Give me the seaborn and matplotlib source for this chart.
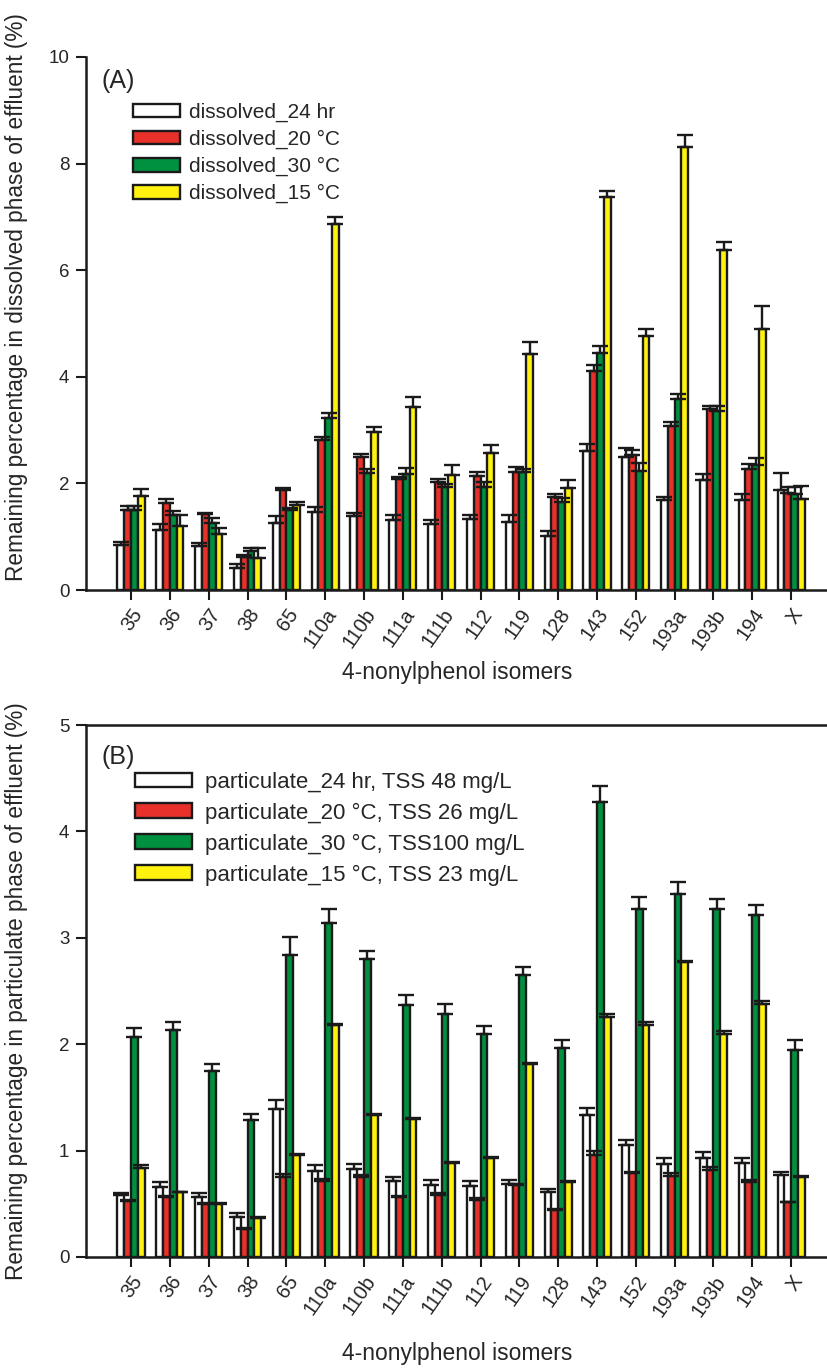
import numpy as np
import pandas as pd
import matplotlib
matplotlib.use("Agg")
import matplotlib.pyplot as plt
import seaborn as sns

isomers = ["35", "36", "37", "38", "65", "110a", "110b", "111a", "111b", "112",
           "119", "128", "143", "152", "193a", "193b", "194", "X"]

# Panel A: dissolved phase (%)
dis_24hr = [0.84, 1.12, 0.83, 0.41, 1.25, 1.47, 1.38, 1.31, 1.24, 1.34, 1.28, 1.02, 2.61, 2.50, 1.69, 2.06, 1.69, 1.88]
dis_20C = [1.51, 1.64, 1.43, 0.62, 1.87, 2.81, 2.49, 2.08, 2.03, 2.14, 2.22, 1.74, 4.11, 2.53, 3.08, 3.39, 2.27, 1.83]
dis_30C = [1.51, 1.41, 1.25, 0.74, 1.50, 3.22, 2.19, 2.17, 1.93, 1.94, 2.21, 1.66, 4.45, 2.24, 3.58, 3.36, 2.35, 1.80]
dis_15C = [1.76, 1.21, 1.05, 0.61, 1.60, 6.86, 2.96, 3.43, 2.16, 2.58, 4.42, 1.91, 7.38, 4.77, 8.32, 6.38, 4.90, 1.71]
dis_24hr_err = [0.07, 0.11, 0.06, 0.08, 0.13, 0.08, 0.06, 0.10, 0.07, 0.07, 0.13, 0.09, 0.13, 0.17, 0.06, 0.12, 0.11, 0.31]
dis_20C_err = [0.06, 0.07, 0.02, 0.04, 0.04, 0.07, 0.06, 0.05, 0.05, 0.07, 0.08, 0.06, 0.12, 0.10, 0.08, 0.06, 0.09, 0.10]
dis_30C_err = [0.06, 0.08, 0.10, 0.04, 0.04, 0.11, 0.09, 0.12, 0.06, 0.09, 0.06, 0.06, 0.13, 0.14, 0.09, 0.09, 0.12, 0.13]
dis_15C_err = [0.13, 0.19, 0.11, 0.17, 0.06, 0.13, 0.10, 0.20, 0.18, 0.15, 0.23, 0.15, 0.11, 0.12, 0.21, 0.14, 0.43, 0.24]

# Panel B: particulate phase (%)
par_24hr = [0.58, 0.66, 0.565, 0.38, 1.39, 0.81, 0.83, 0.71, 0.68, 0.67, 0.69, 0.61, 1.33, 1.05, 0.87, 0.93, 0.88, 0.77]
par_20C = [0.53, 0.56, 0.50, 0.26, 0.75, 0.71, 0.75, 0.565, 0.58, 0.54, 0.68, 0.445, 0.96, 0.79, 0.76, 0.82, 0.70, 0.52]
par_30C = [2.07, 2.13, 1.75, 1.29, 2.84, 3.14, 2.80, 2.37, 2.28, 2.10, 2.65, 1.96, 4.28, 3.27, 3.41, 3.27, 3.21, 1.95]
par_15C = [0.84, 0.61, 0.50, 0.37, 0.96, 2.18, 1.33, 1.30, 0.88, 0.93, 1.81, 0.70, 2.26, 2.18, 2.77, 2.10, 2.38, 0.75]
par_24hr_err = [0.02, 0.04, 0.035, 0.03, 0.09, 0.05, 0.04, 0.04, 0.04, 0.04, 0.03, 0.03, 0.07, 0.05, 0.06, 0.06, 0.05, 0.03]
par_20C_err = [0.01, 0.01, 0.01, 0.01, 0.03, 0.02, 0.02, 0.01, 0.02, 0.01, 0.01, 0.01, 0.04, 0.01, 0.03, 0.03, 0.02, 0.00]
par_30C_err = [0.08, 0.08, 0.06, 0.05, 0.17, 0.13, 0.08, 0.09, 0.10, 0.07, 0.08, 0.08, 0.15, 0.11, 0.11, 0.09, 0.10, 0.09]
par_15C_err = [0.02, 0.00, 0.01, 0.01, 0.01, 0.01, 0.01, 0.01, 0.01, 0.01, 0.01, 0.01, 0.02, 0.03, 0.01, 0.02, 0.03, 0.01]

labels_A = ["dissolved_24 hr", "dissolved_20 °C", "dissolved_30 °C", "dissolved_15 °C"]
labels_B = ["particulate_24 hr, TSS 48 mg/L", "particulate_20 °C, TSS 26 mg/L",
            "particulate_30 °C, TSS100 mg/L", "particulate_15 °C, TSS 23 mg/L"]
colors = ["#ffffff", "#e8312a", "#009140", "#fff20f"]

sns.set_theme(style="white")
plt.rcParams["font.family"] = ["Liberation Sans", "DejaVu Sans"]
plt.rcParams["axes.linewidth"] = 1.8

fig = plt.figure(figsize=(8.28, 13.70), dpi=100)
axA = fig.add_axes([0.1039, 0.5693, 0.8961, 0.3891])
axB = fig.add_axes([0.1039, 0.0825, 0.8961, 0.3883])


def draw(ax, series, errs, labels, ylim, yticks, ylabel, tag, tag_y,
         legend_fs, leg_xy, handlelen, labelspacing, textpad, xlabelpad, ylabel_y, top_spine):
    rows = []
    for lab, vals in zip(labels, series):
        for iso, v in zip(isomers, vals):
            rows.append({"isomer": iso, "series": lab, "value": v})
    df = pd.DataFrame(rows)
    sns.barplot(data=df, x="isomer", y="value", hue="series", order=isomers,
                hue_order=labels, palette=colors, ax=ax, width=0.7,
                edgecolor="#1a1a1a", linewidth=1.7, errorbar=None, saturation=1)
    n = len(labels)
    bw = 0.7 / n
    x = np.arange(len(isomers))
    for i, (vals, e) in enumerate(zip(series, errs)):
        xi = x - 0.35 + bw * (i + 0.5)
        ax.errorbar(xi, vals, yerr=[np.zeros(len(vals)), e], fmt="none",
                    ecolor="#1a1a1a", elinewidth=1.7, capsize=5.5, capthick=1.7)
    ax.set_xlim(-1.16, 17.95)
    ax.set_ylim(*ylim)
    ax.set_yticks(yticks)
    ax.set_yticklabels([str(t) for t in yticks], fontsize=13.5)
    ax.set_xticks(x)
    ax.set_xticklabels(isomers, rotation=55, ha="right", rotation_mode="anchor", fontsize=14.5)
    ax.tick_params(axis="both", direction="out", length=7, width=1.5, color="#1a1a1a",
                   left=True, bottom=True, pad=5)
    ax.tick_params(axis="x", pad=4)
    ax.set_xlabel("4-nonylphenol isomers", fontsize=16.5, labelpad=xlabelpad)
    ax.set_ylabel(ylabel, fontsize=16.3)
    ax.yaxis.set_label_coords(-0.078, ylabel_y)
    ax.spines["right"].set_visible(False)
    ax.spines["top"].set_visible(top_spine)
    for s in ["left", "bottom", "top"]:
        ax.spines[s].set_color("#1a1a1a")
    ax.text(0.021, tag_y, tag, transform=ax.transAxes, fontsize=18, va="top", ha="left")
    ax.legend(loc="upper left", bbox_to_anchor=leg_xy, frameon=False,
              fontsize=legend_fs, handlelength=handlelen, handleheight=0.65,
              labelspacing=labelspacing, handletextpad=textpad, borderaxespad=0.0,
              borderpad=0.0)
    ax.grid(False)


draw(axA, [dis_24hr, dis_20C, dis_30C, dis_15C],
     [dis_24hr_err, dis_20C_err, dis_30C_err, dis_15C_err], labels_A,
     (0, 10), [0, 2, 4, 6, 8, 10],
     "Remaining percentage in dissolved phase of effluent (%)", "(A)", 0.978,
     15, (0.063, 0.914), 2.26, 0.37, 0.45, 6, 0.55, False)
draw(axB, [par_24hr, par_20C, par_30C, par_15C],
     [par_24hr_err, par_20C_err, par_30C_err, par_15C_err], labels_B,
     (0, 5), [0, 1, 2, 3, 4, 5],
     "Remaining percentage in particulate phase of effluent (%)", "(B)", 0.962,
     16, (0.066, 0.912), 2.55, 0.44, 0.6, 16, 0.5, True)

fig.savefig("out.png", dpi=100)
